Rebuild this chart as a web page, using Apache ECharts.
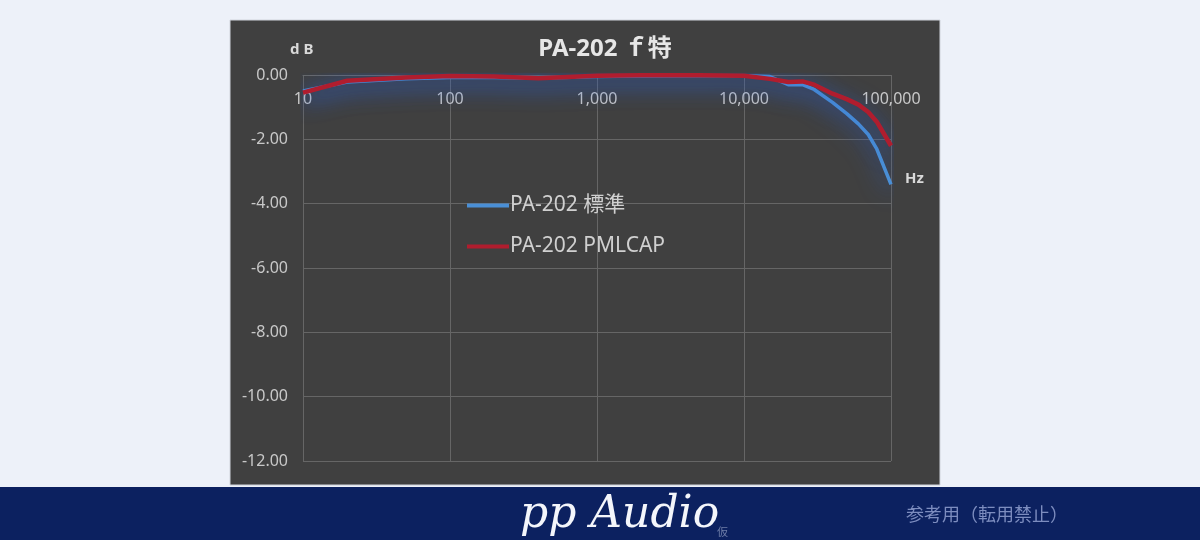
<!DOCTYPE html>
<html>
<head>
<meta charset="utf-8">
<script src="https://cdn.jsdelivr.net/npm/echarts@6/dist/echarts.min.js"></script>
<style>
html,body{margin:0;padding:0;background:#edf1f9;}
#chart{width:1200px;height:540px;}
</style>
</head>
<body>
<div id="chart"></div>
<script>
const frequencies = [10, 20, 50, 100, 200, 400, 1000, 2000, 5000, 10000, 15000, 20000, 25000, 30000, 40000, 50000, 60000, 70000, 80000, 100000];
const standardDb = [-0.5, -0.22, -0.12, -0.08, -0.08, -0.1, -0.05, -0.03, -0.02, -0.02, -0.05, -0.3, -0.3, -0.45, -0.85, -1.2, -1.52, -1.85, -2.3, -3.4];
const pmlcapDb = [-0.55, -0.18, -0.08, -0.03, -0.05, -0.1, -0.02, -0.01, -0.01, -0.02, -0.12, -0.22, -0.2, -0.3, -0.58, -0.75, -0.92, -1.15, -1.45, -2.2];
const seriesNames = ['PA-202 標準', 'PA-202 PMLCAP'];
const yTicks = [-12, -10, -8, -6, -4, -2, 0];

const chart = echarts.init(document.getElementById('chart'), null, {renderer: 'canvas'});
const font = '"Noto Sans", "Noto Sans CJK JP", sans-serif';
const toPairs = (vals) => frequencies.map((f, i) => [f, vals[i]]);

chart.setOption({
  animation: false,
  backgroundColor: '#edf1f9',
  title: {
    text: 'PA-202 ｆ特',
    left: 600, top: 32, textAlign: 'center',
    textStyle: {color: '#e6e6e6', fontSize: 24, fontWeight: 'bold', fontFamily: font}
  },
  legend: {
    left: 462, top: 190, orient: 'vertical', itemGap: 20,
    icon: 'rect', itemWidth: 42, itemHeight: 4,
    textStyle: {color: '#d0d0d0', fontSize: 21, fontFamily: font, padding: [0, 0, 0, -4]},
    data: seriesNames
  },
  grid: {left: 303, right: 309, top: 75, bottom: 79},
  xAxis: {
    type: 'log', logBase: 10, min: 10, max: 100000, position: 'top',
    axisLine: {show: true, onZero: false, lineStyle: {color: '#6a6a6a', width: 1}},
    axisTick: {show: false},
    axisLabel: {inside: true, color: '#c8c8c8', fontSize: 16, fontFamily: font, margin: 16,
      formatter: v => Number(v).toLocaleString('en-US')},
    splitLine: {show: true, lineStyle: {color: '#666666', width: 1}}
  },
  yAxis: {
    type: 'value', min: yTicks[0], max: yTicks[yTicks.length - 1], interval: 2,
    axisLine: {show: false}, axisTick: {show: false},
    axisLabel: {color: '#c8c8c8', fontSize: 16, fontFamily: font, margin: 15,
      formatter: v => v.toFixed(2)},
    splitLine: {show: true, lineStyle: {color: '#666666', width: 1}}
  },
  series: [
    {
      name: seriesNames[0], type: 'line', data: toPairs(standardDb),
      showSymbol: false, symbol: 'none', color: '#4a8fd6',
      lineStyle: {color: '#4a8fd6', width: 3.5, shadowColor: 'rgba(40,95,210,0.95)', shadowBlur: 22, shadowOffsetY: 6}
    },
    {
      name: seriesNames[1], type: 'line', data: toPairs(pmlcapDb),
      showSymbol: false, symbol: 'none', color: '#b01d2e',
      lineStyle: {color: '#b01d2e', width: 4.5, shadowColor: 'rgba(40,95,210,0.95)', shadowBlur: 22, shadowOffsetY: 6}
    }
  ],
  graphic: [
    {type: 'rect', z: -10, silent: true, shape: {x: 230, y: 20, width: 710, height: 465},
      style: {fill: '#404040', stroke: '#d0d4dc', lineWidth: 1}},
    {type: 'rect', z: -10, silent: true, shape: {x: 0, y: 487, width: 1200, height: 53},
      style: {fill: '#0c2160'}},
    {type: 'text', z: 10, left: 290, top: 42,
      style: {text: 'd B', fill: '#d9d9d9', font: 'bold 15px ' + font}},
    {type: 'text', z: 10, left: 905, top: 171,
      style: {text: 'Hz', fill: '#d9d9d9', font: 'bold 15px ' + font}},
    {type: 'text', z: 10, left: 520, top: 494,
      style: {text: 'pp Audio', fill: '#f4f6fb', font: 'italic 44px "DejaVu Serif", serif'}},
    {type: 'text', z: 10, left: 717, top: 526,
      style: {text: '仮', fill: '#6f7ea8', font: '11px "Noto Sans CJK JP", sans-serif'}},
    {type: 'text', z: 10, left: 906, top: 505,
      style: {text: '参考用（転用禁止）', fill: '#7d8dbf', font: '18px "Noto Sans CJK JP", sans-serif'}}
  ]
});
</script>
</body>
</html>
